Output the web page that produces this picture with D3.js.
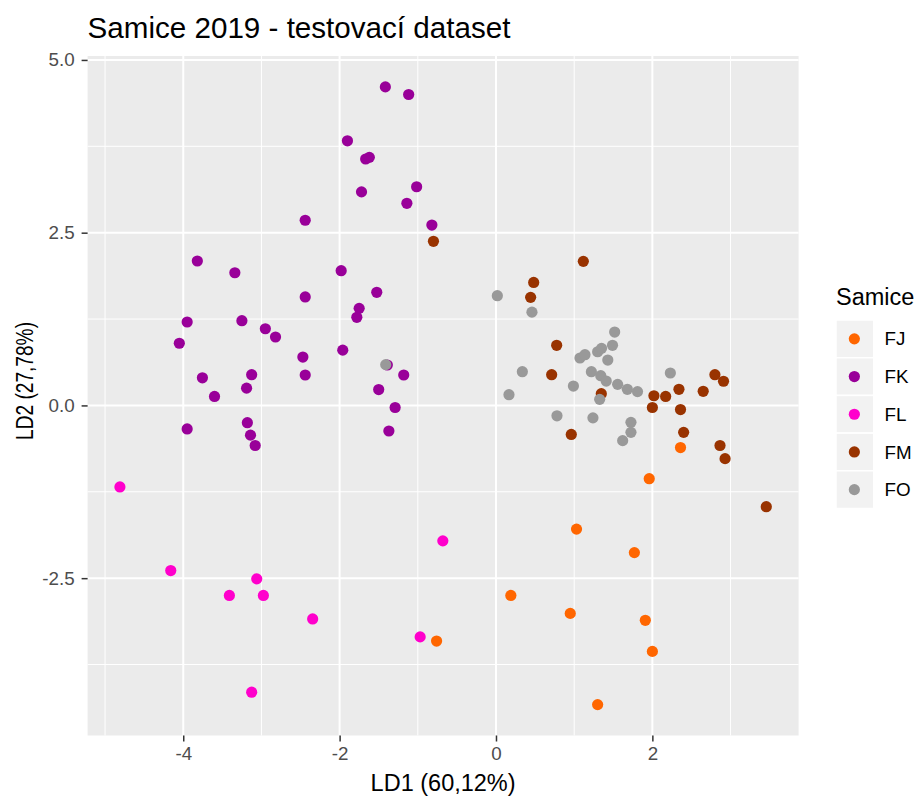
<!DOCTYPE html>
<html>
<head>
<meta charset="utf-8">
<script src="https://cdn.jsdelivr.net/npm/d3@7"></script>
<style>
  body { margin: 0; background: #fff; }
  text { font-family: "Liberation Sans", Arial, sans-serif; }
</style>
</head>
<body>
<figure id="lda" style="margin:0"></figure>
<script>
// categories and LDA scores (LD1, LD2)
const groups = ["FJ", "FK", "FL", "FM", "FO"];
const groupColors = ["#FF6600", "#990099", "#FF00CC", "#993300", "#999999"];

const pointsFJ = [[2.36,-0.61],[1.96,-1.06],[1.03,-1.79],[1.77,-2.13],[0.19,-2.75],[0.95,-3.01],
  [1.91,-3.11],[-0.76,-3.41],[2.00,-3.56],[1.30,-4.33]];
const pointsFK = [[-1.415,4.61],[-1.117,4.50],[-1.90,3.83],[-1.667,3.566],[-1.62,3.59],[-1.72,3.09],
  [-1.015,3.165],[-1.14,2.925],[-2.44,2.68],[-0.82,2.61],[-3.82,2.09],[-3.34,1.92],[-1.98,1.95],
  [-1.525,1.637],[-2.44,1.57],[-1.75,1.405],[-1.78,1.275],[-3.95,1.207],[-3.25,1.226],[-2.95,1.11],
  [-2.82,0.99],[-4.05,0.90],[-1.96,0.80],[-2.47,0.70],[-1.39,0.585],[-1.18,0.44],[-3.755,0.40],
  [-3.125,0.445],[-2.44,0.44],[-3.19,0.25],[-3.60,0.13],[-1.50,0.23],[-1.29,-0.03],[-3.95,-0.34],
  [-3.18,-0.25],[-3.14,-0.43],[-3.08,-0.58],[-1.37,-0.37]];
const pointsFL = [[-4.81,-1.18],[-4.16,-2.39],[-3.06,-2.51],[-3.41,-2.75],[-2.975,-2.75],[-2.345,-3.09],
  [-0.97,-3.35],[-0.68,-1.96],[-3.125,-4.15]];
const pointsFM = [[-0.80,2.375],[1.117,2.085],[0.482,1.78],[0.443,1.564],[0.776,0.87],[0.712,0.445],
  [1.347,0.17],[2.02,0.14],[2.17,0.13],[2.34,0.233],[2.65,0.204],[2.80,0.445],[2.91,0.35],[2.00,-0.03],
  [2.36,-0.06],[0.963,-0.42],[2.40,-0.39],[2.865,-0.58],[2.93,-0.77],[3.457,-1.466]];
const pointsFO = [[-1.41,0.59],[0.017,1.588],[0.46,1.35],[1.518,1.062],[1.49,0.87],[1.074,0.686],
  [1.138,0.734],[1.30,0.777],[1.35,0.826],[1.43,0.657],[0.337,0.488],[1.22,0.488],[1.34,0.43],
  [1.41,0.353],[0.99,0.28],[0.166,0.155],[1.556,0.305],[1.68,0.233],[1.81,0.20],[2.23,0.469],
  [1.326,0.088],[0.78,-0.15],[1.24,-0.18],[1.726,-0.245],[1.726,-0.39],[1.62,-0.51]];

const xTicks = [-4, -2, 0, 2];
const xTickLabels = ["-4", "-2", "0", "2"];
const yTicks = [-2.5, 0, 2.5, 5];
const yTickLabels = ["-2.5", "0.0", "2.5", "5.0"];

const chartTitle = "Samice 2019 - testovací dataset";
const xTitle = "LD1 (60,12%)";
const yTitle = "LD2 (27,78%)";
const legendTitle = "Samice";

const width = 919, height = 796;
const panel = { left: 87.6, right: 798.6, top: 56, bottom: 735.5 };
const base = 23.5;
const pointR = 5.6;

const series = [pointsFJ, pointsFK, pointsFL, pointsFM, pointsFO];
const data = [];
series.forEach(function (pts, i) {
  pts.forEach(function (p) { data.push({ group: groups[i], x: p[0], y: p[1] }); });
});

// ggplot style 5% expansion of the data range
function expand(ext) {
  const d = (ext[1] - ext[0]) * 0.05;
  return [ext[0] - d, ext[1] + d];
}

const x = d3.scaleLinear()
  .domain(expand(d3.extent(data, d => d.x)))
  .range([panel.left, panel.right]);
const y = d3.scaleLinear()
  .domain(expand(d3.extent(data, d => d.y)))
  .range([panel.bottom, panel.top]);
const color = d3.scaleOrdinal().domain(groups).range(groupColors);

const svg = d3.select("#lda")
  .append("svg")
  .attr("width", width)
  .attr("height", height);

svg.append("rect")
  .attr("width", width).attr("height", height)
  .attr("fill", "#fff");

svg.append("rect")
  .attr("x", panel.left).attr("y", panel.top)
  .attr("width", panel.right - panel.left)
  .attr("height", panel.bottom - panel.top)
  .attr("fill", "#EBEBEB");

// minor grid, half way between the breaks
const xMinor = [-5, -3, -1, 1, 3].filter(v => x(v) > panel.left && x(v) < panel.right);
const yMinor = [-3.75, -1.25, 1.25, 3.75].filter(v => y(v) < panel.bottom && y(v) > panel.top);

const grid = svg.append("g");
grid.selectAll(".xminor").data(xMinor).enter().append("line")
  .attr("x1", d => x(d)).attr("x2", d => x(d))
  .attr("y1", panel.top).attr("y2", panel.bottom)
  .attr("stroke", "#fff").attr("stroke-width", 1);
grid.selectAll(".yminor").data(yMinor).enter().append("line")
  .attr("x1", panel.left).attr("x2", panel.right)
  .attr("y1", d => y(d)).attr("y2", d => y(d))
  .attr("stroke", "#fff").attr("stroke-width", 1);
grid.selectAll(".xmajor").data(xTicks).enter().append("line")
  .attr("x1", d => x(d)).attr("x2", d => x(d))
  .attr("y1", panel.top).attr("y2", panel.bottom)
  .attr("stroke", "#fff").attr("stroke-width", 2);
grid.selectAll(".ymajor").data(yTicks).enter().append("line")
  .attr("x1", panel.left).attr("x2", panel.right)
  .attr("y1", d => y(d)).attr("y2", d => y(d))
  .attr("stroke", "#fff").attr("stroke-width", 2);

// axes
const xAxis = d3.axisBottom(x)
  .tickValues(xTicks)
  .tickFormat((d, i) => xTickLabels[i])
  .tickSize(6).tickPadding(5);
const yAxis = d3.axisLeft(y)
  .tickValues(yTicks)
  .tickFormat((d, i) => yTickLabels[i])
  .tickSize(6).tickPadding(7);

const gx = svg.append("g")
  .attr("transform", "translate(0," + panel.bottom + ")")
  .call(xAxis);
const gy = svg.append("g")
  .attr("transform", "translate(" + panel.left + ",0)")
  .call(yAxis);

[gx, gy].forEach(function (g) {
  g.select(".domain").remove();
  g.selectAll(".tick line").attr("stroke", "#333333").attr("stroke-width", 1.5);
  g.selectAll(".tick text")
    .attr("fill", "#4D4D4D")
    .style("font-size", (base * 0.8) + "px")
    .style("font-family", "'Liberation Sans', Arial, sans-serif");
});

// points
svg.append("g")
  .selectAll("circle")
  .data(data)
  .enter()
  .append("circle")
  .attr("cx", d => x(d.x))
  .attr("cy", d => y(d.y))
  .attr("r", pointR)
  .attr("fill", d => color(d.group));

// titles
svg.append("text")
  .attr("x", panel.left)
  .attr("y", 37.5)
  .style("font-size", "29.6px")
  .attr("fill", "#000")
  .text(chartTitle);

svg.append("text")
  .attr("x", (panel.left + panel.right) / 2)
  .attr("y", 791)
  .attr("text-anchor", "middle")
  .style("font-size", base + "px")
  .attr("fill", "#000")
  .text(xTitle);

svg.append("text")
  .attr("transform", "translate(33,381) rotate(-90)")
  .attr("text-anchor", "middle")
  .attr("textLength", 118)
  .attr("lengthAdjust", "spacingAndGlyphs")
  .style("font-size", base + "px")
  .attr("fill", "#000")
  .text(yTitle);

// legend
const legend = svg.append("g").attr("transform", "translate(836,0)");
legend.append("text")
  .attr("x", 0).attr("y", 305)
  .style("font-size", base + "px")
  .attr("fill", "#000")
  .text(legendTitle);

const keySize = 37.7;
const key = legend.selectAll(".key")
  .data(groups)
  .enter()
  .append("g")
  .attr("transform", (d, i) => "translate(0," + (320 + i * keySize) + ")");
key.append("rect")
  .attr("width", keySize).attr("height", keySize)
  .attr("fill", "#F2F2F2")
  .attr("stroke", "#fff").attr("stroke-width", 1.5);
key.append("circle")
  .attr("cx", keySize / 2 - 0.5).attr("cy", keySize / 2)
  .attr("r", pointR)
  .attr("fill", d => color(d));
key.append("text")
  .attr("x", 48.5).attr("y", keySize / 2)
  .attr("dy", "0.35em")
  .style("font-size", (base * 0.8) + "px")
  .attr("fill", "#000")
  .text(d => d);
</script>
</body>
</html>
